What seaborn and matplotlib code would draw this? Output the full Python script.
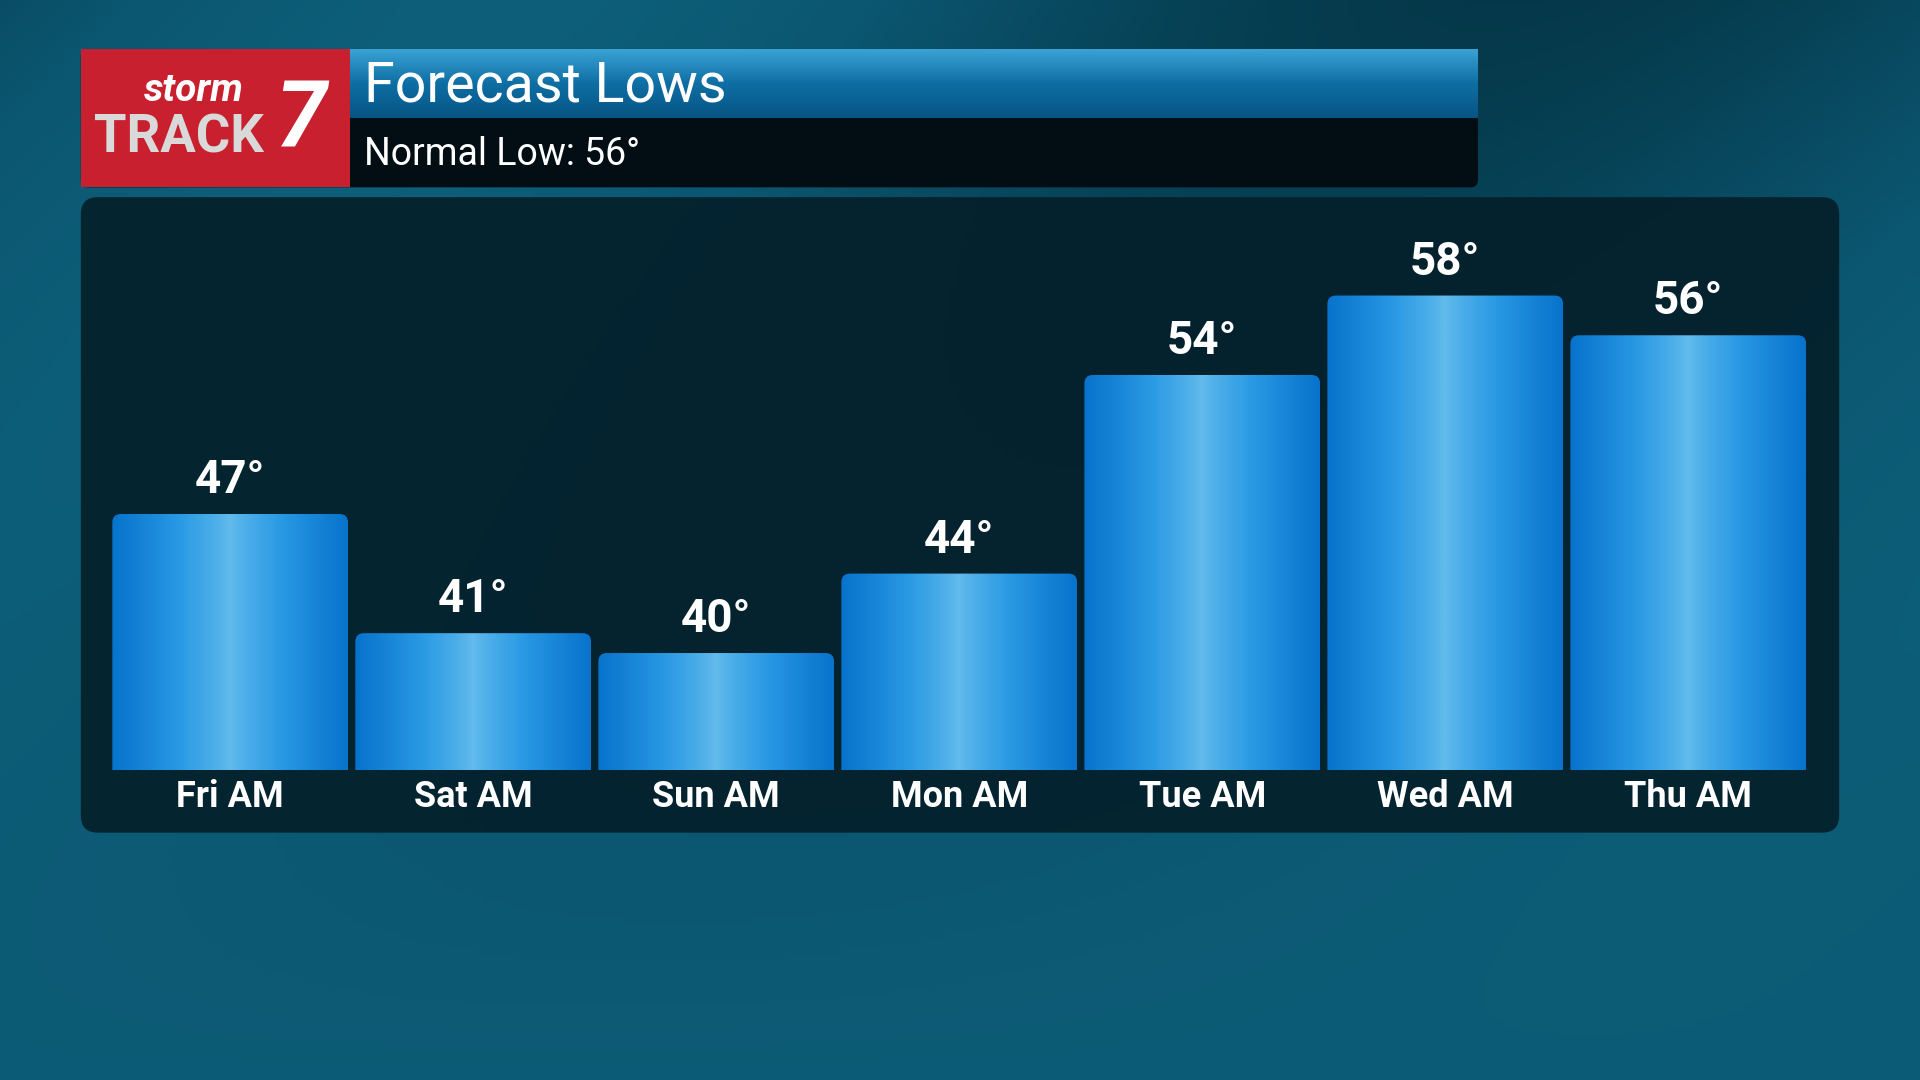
import numpy as np
import pandas as pd
import matplotlib
matplotlib.use("Agg")
import matplotlib.pyplot as plt
import seaborn as sns
from matplotlib.patches import FancyBboxPatch, Rectangle
from matplotlib.colors import LinearSegmentedColormap

days = ["Fri AM", "Sat AM", "Sun AM", "Mon AM", "Tue AM", "Wed AM", "Thu AM"]
lows = [47, 41, 40, 44, 54, 58, 56]
title = "Forecast Lows"
subtitle = "Normal Low: 56°"

sns.set_theme(style="white")
plt.rcParams['font.family'] = ['Roboto', 'DejaVu Sans']

W, H = 1568, 882
fig = plt.figure(figsize=(19.2, 10.8), dpi=100)

# background
bg = fig.add_axes([0, 0, 1, 1]); bg.set_axis_off()
yy, xx = np.mgrid[0:1:200j, 0:1:360j]
val = 0.55 + 0.25 * np.sin(6 * xx + 3 * yy) * (1 - yy) + 0.2 * yy
cm = LinearSegmentedColormap.from_list("bg", ["#03303f", "#0b5670", "#12708c"])
bg.imshow(val, cmap=cm, extent=[0, W, H, 0], aspect="auto", vmin=0.2, vmax=1.1, zorder=0)

# panel
bg.add_patch(FancyBboxPatch((66, 161), 1436, 519, boxstyle="round,pad=0,rounding_size=14",
                            fc="#04202b", ec="none", alpha=0.93, zorder=1))
# header
bg.add_patch(FancyBboxPatch((66, 40), 1141, 113, boxstyle="round,pad=0,rounding_size=6",
                            fc="#020e14", ec="none", zorder=1))
hy, hx = np.mgrid[0:1:50j, 0:1:2j]
cmh = LinearSegmentedColormap.from_list("h", ["#3aa2d4", "#0e6ea4", "#075583"])
bg.imshow(hy, cmap=cmh, extent=[286, 1207, 96, 40], aspect="auto", zorder=2)
bg.add_patch(Rectangle((66, 40), 220, 113, fc="#c8202f", ec="none", zorder=3))
bg.text(158, 74, "storm", color="white", fontsize=28, fontweight="bold", style="italic",
        ha="center", va="center", zorder=4)
bg.text(146, 113, "TRACK", color="#d9d9d9", fontsize=38, fontweight="bold",
        ha="center", va="center", zorder=4)
bg.text(246, 98, "7", color="white", fontsize=66, fontweight="bold", style="italic",
        ha="center", va="center", zorder=4)
bg.text(297, 70, title, color="white", fontsize=40, ha="left", va="center", zorder=4)
bg.text(297, 126, subtitle, color="white", fontsize=27, ha="left", va="center", zorder=4)
bg.set_xlim(0, W); bg.set_ylim(H, 0)

# chart axes
left = 88.75 / W; right = 1478 / W
bottom = 1 - 629 / H; top = 1 - 170 / H
ax = fig.add_axes([left, bottom, right - left, top - bottom])
ax.patch.set_alpha(0)
df = pd.DataFrame({"day": days, "low": lows})
sns.barplot(data=df, x="day", y="low", ax=ax, width=0.97, color="#1a8fe0", saturation=1)
ax.set_axis_off()

base = 34.1
grad = np.abs(np.linspace(-1, 1, 200))[None, :] ** 0.8
cmb = LinearSegmentedColormap.from_list("b", ["#62bbec", "#2a9ae4", "#0873cc"])
for p, v in zip(ax.patches, lows):
    x0, w = p.get_x(), p.get_width()
    p.set_visible(False)
    clip = FancyBboxPatch((x0, base - 1), w, v - base + 1, boxstyle="round,pad=0,rounding_size=0.035",
                          mutation_aspect=12.25, fc="none", ec="none")
    ax.add_patch(clip)
    im = ax.imshow(grad, cmap=cmb, extent=[x0, x0 + w, base, v], aspect="auto", zorder=2)
    im.set_clip_path(clip)
    ax.text(x0 + w / 2, v + 0.6, f"{v}°", color="white", fontsize=33, fontweight="bold",
            ha="center", va="bottom")
for i, d in enumerate(days):
    ax.text(i, base - 0.45, d, color="white", fontsize=26, fontweight="bold",
            ha="center", va="top")
ax.set_xlim(-0.5, 6.5); ax.set_ylim(base, 62.4)

fig.savefig("out.png", dpi=100)
